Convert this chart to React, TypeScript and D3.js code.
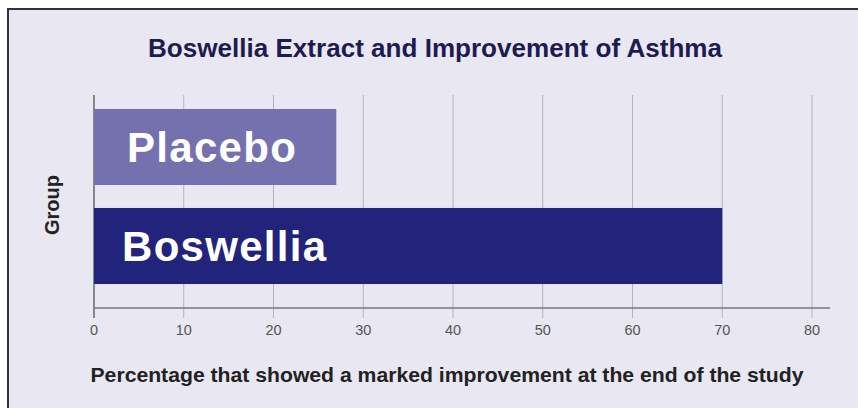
import * as d3 from 'd3';

const groups = ['Placebo', 'Boswellia'];
const percentages = [27, 70];
const xTicks = [0, 10, 20, 30, 40, 50, 60, 70, 80];
const barColors = ['#7571ae', '#22237b'];

const title = 'Boswellia Extract and Improvement of Asthma';
const xTitle = 'Percentage that showed a marked improvement at the end of the study';
const yTitle = 'Group';

const App = () => {
  const W = 858;
  const H = 408;
  const axisY = 308;

  const x = d3.scaleLinear().domain([0, 80]).range([94, 812]);
  const y = d3.scaleBand<string>()
    .domain(groups)
    .range([97.5, 295.5])
    .paddingInner(0.232)
    .paddingOuter(0.116);

  return (
    <svg width={W} height={H} style={{ position: 'absolute', left: 0, top: 0 }}>
      <rect x={0} y={0} width={W} height={H} fill="#ffffff" />
      <rect x={8} y={9} width={W + 10} height={H} fill="#e9e7f2" stroke="#333" strokeWidth={2} />

      {/* title */}
      <text x={148} y={57} fill="#1e1b50" textLength={574} lengthAdjust="spacingAndGlyphs"
        style={{ font: 'bold 26.5px "Liberation Sans", Arial, sans-serif' }}>
        {title}
      </text>

      {/* gridlines */}
      {xTicks.map(t => (
        <line key={t} x1={x(t)} x2={x(t)} y1={95} y2={318}
          stroke={t === 0 ? '#666' : '#b4b2be'} strokeWidth={t === 0 ? 1.5 : 1} />
      ))}

      {/* bars */}
      {groups.map((g, i) => (
        <g key={g}>
          <rect x={x(0)} y={y(g)!} width={x(percentages[i]) - x(0)} height={y.bandwidth()}
            fill={barColors[i]} />
          <text x={x(0) + (i === 0 ? 33 : 28)} y={y(g)! + y.bandwidth() / 2 + 15}
            fill="#ffffff" letterSpacing={1.3}
            style={{ font: 'bold 42px "Liberation Sans", Arial, sans-serif' }}>
            {g}
          </text>
        </g>
      ))}

      {/* x axis */}
      <line x1={x(0)} x2={830} y1={axisY} y2={axisY} stroke="#777" strokeWidth={1.5} />
      {xTicks.map(t => (
        <text key={t} x={x(t)} y={335} textAnchor="middle" fill="#555"
          style={{ font: '14.5px "Liberation Sans", Arial, sans-serif' }}>
          {t}
        </text>
      ))}
      <text x={447} y={382} textAnchor="middle" fill="#222" textLength={713} lengthAdjust="spacingAndGlyphs"
        style={{ font: 'bold 20.5px "Liberation Sans", Arial, sans-serif' }}>
        {xTitle}
      </text>

      {/* y title */}
      <text transform="translate(59,205) rotate(-90)" textAnchor="middle" fill="#222"
        style={{ font: 'bold 20px "Liberation Sans", Arial, sans-serif' }}>
        {yTitle}
      </text>
    </svg>
  );
};

export default App;
